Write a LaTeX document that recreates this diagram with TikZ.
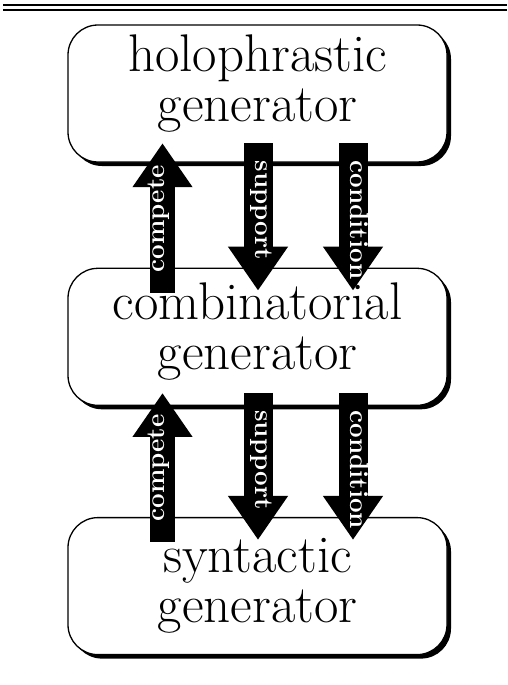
\documentclass[tikz,border=0pt]{standalone}
\usepackage{fontspec}
\usetikzlibrary{positioning, arrows.meta, shadows}

\tikzset{
  genbox/.style={draw, line width=1.3pt, rounded corners=30pt, fill=white,
    minimum width=379pt, minimum height=137pt, align=center,
    font=\fontsize{53}{50}\selectfont, text depth=#1,
    drop shadow={fill=black, opacity=1, shadow xshift=4pt, shadow yshift=-4pt}},
  genbox/.default=11pt,
  fat/.style={line width=#1, -{Triangle[width=57pt,length=44pt]}},
  fat/.default=29pt,
  tag/.style={text=white, font=\bfseries\fontsize{26}{26}\selectfont,
    text height=.66em, text depth=.19em, inner ysep=0pt, at start, anchor=west},
  tagup/.style={tag, rotate=90, inner xsep=8pt},
  tagdn/.style={tag, rotate=-90, inner xsep=3pt}
}

\begin{document}
\begin{tikzpicture}[x=1pt, y=1pt]
  \useasboundingbox (0,0) rectangle (507,-685);
  % rule on top
  \draw[line width=2pt]   (3,-5)  -- (507,-5);
  \draw[line width=1.5pt] (3,-10) -- (507,-10);
  % generators
  \node[genbox=31pt] (holo) at (257.5,-93.5) {holophrastic\\generator};
  \node[genbox=21pt, below=105pt of holo] (comb) {combinatorial\\generator};
  \node[genbox, below=111pt of comb] (synt) {syntactic\\generator};
  % arrows between them
  \foreach \up/\dn/\gap in {holo/comb/19.5pt, comb/synt/13pt}{
    \coordinate[below left=25pt and 95pt of \dn.north] (\dn-ct);
    \coordinate[above left=\gap and 95pt of \up.south] (\up-ch);
    \draw[fat=25pt] (\dn-ct) -- (\up-ch) node[tagup] {compete};
    \foreach \t/\dx in {support/0.5pt, condition/95.5pt}{
      \coordinate[above right=\gap and \dx of \up.south] (\up-\t);
      \coordinate[below right=23pt and \dx of \dn.north] (\dn-\t);
      \draw[fat] (\up-\t) -- (\dn-\t) node[tagdn] {\t};
    }
  }
\end{tikzpicture}
\end{document}
